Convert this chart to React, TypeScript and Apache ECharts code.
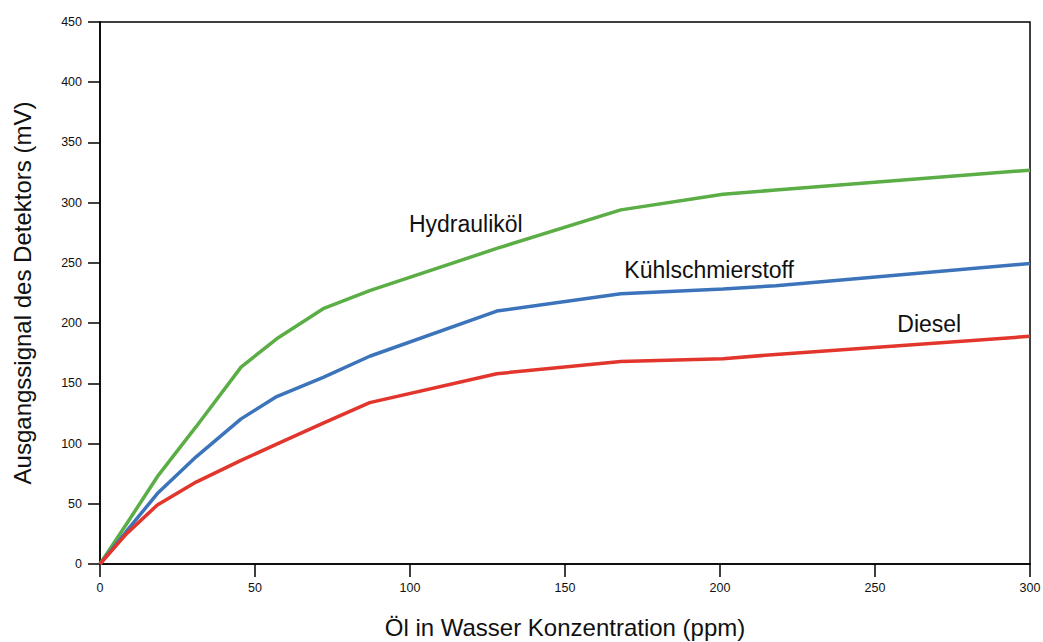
import React, { useEffect, useRef } from "react";
import * as echarts from "echarts";

const concentration = [0, 8.5, 18.5, 31, 45.5, 57, 72, 87, 128, 168, 201, 218, 300];
const hydraulikoel = [0, 33, 72.5, 114, 163.5, 187, 212, 227, 262, 294, 307, 310.5, 327];
const kuehlschmierstoff = [0, 27, 58.5, 89, 120.5, 139, 155, 172.5, 210, 224.3, 228.4, 231, 249.5];
const diesel = [0, 25, 49, 68, 86, 99.5, 117, 134, 158, 168.2, 170.5, 174, 189];

const seriesNames = ["Hydrauliköl", "Kühlschmierstoff", "Diesel"];
const seriesColors = ["#5bae46", "#3b74ba", "#e2352c"];
const labelCoords: [number, number][] = [
  [118, 282],
  [196.5, 244.5],
  [267.5, 199.5],
];

const xTitle = "Öl in Wasser Konzentration (ppm)";
const yTitle = "Ausgangssignal des Detektors (mV)";

const FONT = "'Liberation Sans', Arial, sans-serif";

export default function App() {
  const ref = useRef<HTMLDivElement>(null);
  useEffect(() => {
    if (!ref.current) return;
    const chart = echarts.init(ref.current, undefined, { renderer: "svg" });
    const allData = [hydraulikoel, kuehlschmierstoff, diesel];
    chart.setOption({
      animation: false,
      backgroundColor: "#ffffff",
      textStyle: { fontFamily: FONT },
      grid: {
        left: 100,
        right: 13,
        top: 22,
        bottom: 78,
        containLabel: false,
        outerBoundsMode: "none",
        show: true,
        borderColor: "#000",
        borderWidth: 1.5,
        backgroundColor: "transparent",
      },
      xAxis: {
        type: "value",
        min: 0,
        max: 300,
        interval: 50,
        name: xTitle,
        nameLocation: "middle",
        nameGap: 51,
        nameTextStyle: { fontSize: 24, color: "#111", fontFamily: FONT },
        axisLine: { show: true, lineStyle: { color: "#000", width: 1.5 } },
        axisTick: { show: true, length: 13, lineStyle: { color: "#000", width: 1.5 } },
        axisLabel: { fontSize: 12.5, color: "#111", margin: 17, fontFamily: FONT },
        splitLine: { show: false },
      },
      yAxis: {
        type: "value",
        min: 0,
        max: 450,
        interval: 50,
        name: yTitle,
        nameLocation: "middle",
        nameGap: 66,
        nameTextStyle: { fontSize: 24, color: "#111", fontFamily: FONT },
        axisLine: { show: true, lineStyle: { color: "#000", width: 1.5 } },
        axisTick: { show: true, length: 12, lineStyle: { color: "#000", width: 1.5 } },
        axisLabel: { fontSize: 12.5, color: "#111", margin: 18, fontFamily: FONT },
        splitLine: { show: false },
      },
      series: seriesNames.map((name, i) => ({
        name,
        type: "line",
        data: concentration.map((x, j) => [x, allData[i][j]]),
        showSymbol: false,
        symbol: "none",
        lineStyle: { color: seriesColors[i], width: 3.5 },
        itemStyle: { color: seriesColors[i] },
        z: 3,
        markPoint: {
          symbol: "circle",
          symbolSize: 1,
          itemStyle: { color: "rgba(0,0,0,0)" },
          label: {
            show: true,
            position: "inside",
            formatter: name,
            fontSize: 23,
            color: "#111",
            fontFamily: FONT,
          },
          data: [{ coord: labelCoords[i] }],
        },
      })),
    });
    return () => chart.dispose();
  }, []);
  return (
    <div
      ref={ref}
      style={{ position: "fixed", left: 0, top: 0, width: 1043, height: 642 }}
    />
  );
}
